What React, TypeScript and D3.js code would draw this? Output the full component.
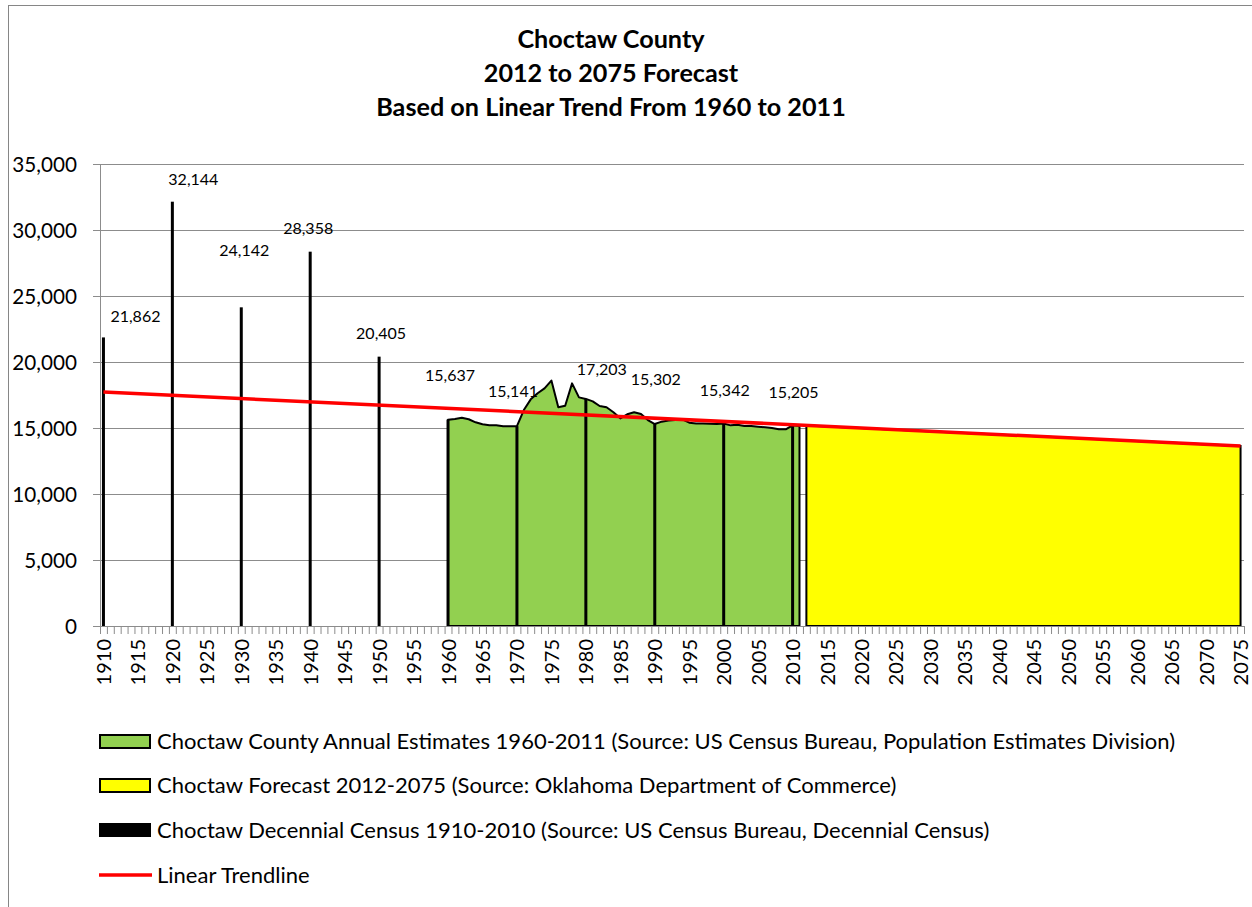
import React from "react";
import * as d3 from "d3";

const titleLines = ["Choctaw County", "2012 to 2075 Forecast", "Based on Linear Trend From 1960 to 2011"];

const years: number[] = d3.range(1910, 2076);
const xLabelYears: number[] = d3.range(1910, 2076, 5);
const yTicks = [0, 5000, 10000, 15000, 20000, 25000, 30000, 35000];

const censusYears = [1910, 1920, 1930, 1940, 1950, 1960, 1970, 1980, 1990, 2000, 2010];
const censusValues = [21862, 32144, 24142, 28358, 20405, 15637, 15141, 17203, 15302, 15342, 15205];

const estimateYears: number[] = d3.range(1960, 2012);
const estimateValues = [
  15620, 15680, 15780, 15660, 15430, 15280, 15200, 15200, 15130, 15130,
  15141, 16360, 17170, 17630, 18000, 18590, 16570, 16690, 18380, 17320,
  17203, 17020, 16670, 16570, 16190, 15730, 16040, 16190, 16060, 15600,
  15302, 15480, 15560, 15600, 15660, 15400, 15350, 15350, 15330, 15300,
  15342, 15200, 15250, 15150, 15150, 15100, 15050, 15000, 14900, 14900,
  15205, 15150,
];

const forecastYears = [2012, 2075];
const forecastValues = [15190, 13640];

const trendYears = [1910, 2075];
const trendValues = [17727, 13636];

const legendItems = [
  "Choctaw County Annual Estimates 1960-2011 (Source: US Census Bureau, Population Estimates Division)",
  "Choctaw Forecast 2012-2075 (Source: Oklahoma Department of Commerce)",
  "Choctaw Decennial Census 1910-2010 (Source: US Census Bureau, Decennial Census)",
  "Linear Trendline",
];

// label offsets (layout only)
const labelOffsets: [number, number][] = [
  [32, -21], [21, -22], [3, -57], [-2, -23], [2, -23], [2, -44], [-4, -35], [16, -29], [1, -45], [1, -33], [1, -33],
];

const FONT = "Lato, 'Open Sans', sans-serif";

export default function App() {
  const W = 1252, H = 907;
  const left = 100, right = 1244, top = 164, bottom = 626;
  const x = d3.scaleBand<number>().domain(years).range([left, right]).padding(0);
  const bw = x.bandwidth();
  const cx = (yr: number) => (x(yr) as number) + bw / 2;
  const y = d3.scaleLinear().domain([0, 35000]).range([bottom, top]);

  const area = d3
    .area<[number, number]>()
    .x((d) => cx(d[0]))
    .y0(y(0))
    .y1((d) => y(d[1]));

  const estPts: [number, number][] = estimateYears.map((yr, i) => [yr, estimateValues[i]]);
  const fcPts: [number, number][] = forecastYears.map((yr, i) => [yr, forecastValues[i]]);
  const trendLine = d3
    .line<[number, number]>()
    .x((d) => cx(d[0]))
    .y((d) => y(d[1]));
  const trendPts: [number, number][] = trendYears.map((yr, i) => [yr, trendValues[i]]);

  const gridColor = "#8c8c8c";
  const legendY = [741, 785, 830, 875];

  return (
    <div style={{ position: "absolute", left: 0, top: 0 }}>
      <svg width={W} height={H} style={{ display: "block", background: "#fff" }}>
        <rect x={8.5} y={5.5} width={W} height={H} fill="#fff" stroke="#868686" strokeWidth={1} />
        {titleLines.map((t, i) => (
          <text
            key={i}
            x={611}
            y={48 + i * 34}
            textAnchor="middle"
            fontFamily={FONT}
            fontWeight="bold"
            fontSize={25.2}
            fill="#000"
          >
            {t}
          </text>
        ))}
        {/* gridlines */}
        {yTicks.filter((v) => v > 0).map((v) => (
          <line key={v} x1={left} x2={right} y1={y(v) + 0.5} y2={y(v) + 0.5} stroke={gridColor} strokeWidth={1} />
        ))}
        {/* y axis */}
        <line x1={left + 0.5} x2={left + 0.5} y1={top} y2={bottom} stroke={gridColor} />
        {yTicks.map((v) => (
          <g key={v}>
            <line x1={left - 7} x2={left} y1={y(v) + 0.5} y2={y(v) + 0.5} stroke={gridColor} />
            <text x={77} y={y(v) + 7.5} textAnchor="end" fontFamily={FONT} fontSize={20.7} fill="#000">
              {d3.format(",")(v)}
            </text>
          </g>
        ))}
        {/* areas */}
        <path d={area(estPts) as string} fill="#92d050" stroke="#000" strokeWidth={2} strokeLinejoin="round" />
        <path d={area(fcPts) as string} fill="#ffff00" stroke="#000" strokeWidth={2} />
        {/* census bars */}
        {censusYears.map((yr, i) => (
          <rect key={yr} x={cx(yr) - 1.5} width={3} y={y(censusValues[i])} height={y(0) - y(censusValues[i])} fill="#000" />
        ))}
        {/* trendline */}
        <path d={trendLine(trendPts) as string} fill="none" stroke="#ff0000" strokeWidth={3.5} />
        {/* x axis */}
        <line x1={left} x2={right} y1={bottom + 0.5} y2={bottom + 0.5} stroke={gridColor} />
        {years.concat([2076]).map((yr, i) => {
          const xx = left + i * bw;
          return <line key={yr} x1={xx + 0.5} x2={xx + 0.5} y1={bottom} y2={bottom + 8} stroke={gridColor} />;
        })}
        {xLabelYears.map((yr) => (
          <text
            key={yr}
            transform={`translate(${cx(yr) + 7.5},${bottom + 13}) rotate(-90)`}
            textAnchor="end"
            fontFamily={FONT}
            fontSize={20}
            fill="#000"
          >
            {yr}
          </text>
        ))}
        {/* data labels */}
        {censusYears.map((yr, i) => (
          <text
            key={yr}
            x={cx(yr) + labelOffsets[i][0]}
            y={y(censusValues[i]) + labelOffsets[i][1] + 5.5}
            textAnchor="middle"
            fontFamily={FONT}
            fontSize={16}
            fill="#000"
          >
            {d3.format(",")(censusValues[i])}
          </text>
        ))}
        {/* legend */}
        {legendItems.map((t, i) => (
          <g key={i}>
            {i === 0 && <rect x={100} y={legendY[i] - 6} width={50} height={13} fill="#92d050" stroke="#000" strokeWidth={2} />}
            {i === 1 && <rect x={100} y={legendY[i] - 6} width={50} height={13} fill="#ffff00" stroke="#000" strokeWidth={2} />}
            {i === 2 && <rect x={99} y={legendY[i] - 7} width={52} height={14} fill="#000" />}
            {i === 3 && <line x1={99} x2={152} y1={legendY[i]} y2={legendY[i]} stroke="#ff0000" strokeWidth={3.5} />}
            <text x={157} y={legendY[i] + 7.5} fontFamily={FONT} fontSize={22} fill="#000">
              {t}
            </text>
          </g>
        ))}
      </svg>
    </div>
  );
}
